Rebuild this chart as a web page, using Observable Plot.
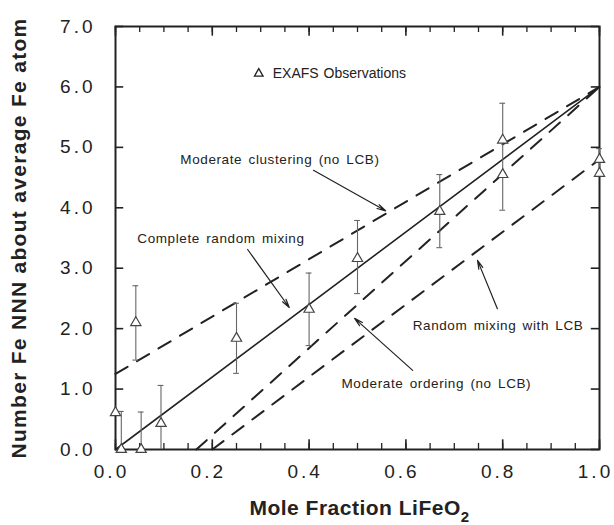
<!DOCTYPE html>
<html>
<head>
<meta charset="utf-8">
<script src="https://cdn.jsdelivr.net/npm/d3@7"></script>
<script src="https://cdn.jsdelivr.net/npm/@observablehq/plot@0.6"></script>
<style>
  html, body { margin: 0; padding: 0; background: #fff; }
</style>
</head>
<body>
<div id="chart"></div>
<script>
// ---- tick labels ----
const xTicks = [0.0, 0.2, 0.4, 0.6, 0.8, 1.0];
const yTicks = [0, 1, 2, 3, 4, 5, 6, 7];
const xMinor = d3.range(0, 1.0001, 0.05);

// ---- EXAFS observations (triangles with error bars) ----
const obsX  = [0.0,  0.012, 0.042, 0.053, 0.094, 0.25, 0.40, 0.50, 0.67, 0.80, 0.80, 1.0,  1.0];
const obsY  = [0.61, 0.0,   2.10,  0.0,   0.43,  1.84, 2.32, 3.16, 3.94, 5.12, 4.55, 4.80, 4.57];
const errLo = [null, 0.0,   1.48,  0.0,   0.0,   1.26, 1.72, 2.58, 3.34, 3.96, null, null, 4.57];
const errHi = [null, 0.63,  2.71,  0.62,  1.06,  2.42, 2.92, 3.79, 4.55, 5.73, null, null, 4.98];

// ---- model lines ----
const randomX  = [0, 1],     randomY  = [0, 6];      // Complete random mixing
const clusterX = [0, 1],     clusterY = [1.25, 6];   // Moderate clustering (no LCB)
const orderX   = [0.167, 1], orderY   = [0, 6];      // Moderate ordering (no LCB)
const lcbX     = [0.2, 1],   lcbY     = [0, 4.8];    // Random mixing with LCB

// ---- annotations ----
const annoText = ["Moderate clustering (no LCB)", "Complete random mixing", "Random mixing with LCB", "Moderate ordering (no LCB)"];
const annoX = [0.134, 0.045, 0.614, 0.467];
const annoY = [4.80, 3.49, 2.05, 1.09];
const arrX1 = [0.409, 0.273, 0.789, 0.614];
const arrY1 = [4.62, 3.31, 2.33, 1.31];
const arrX2 = [0.558, 0.359, 0.748, 0.494];
const arrY2 = [3.95, 2.35, 3.13, 2.17];
const legendText = ["EXAFS Observations"];
const legendX = [0.296], legendY = [6.22];

const yLabel = "Number Fe NNN about average Fe atom";
const xLabel = "Mole Fraction LiFeO";
const xLabelSub = "2";

const ink = "#222";
const idx = obsX.map((_, i) => i);
const errIdx = idx.filter(i => errLo[i] !== null);
const lineData = (xs, ys) => xs.map((x, i) => ({x, y: ys[i]}));

const chart = Plot.plot({
  width: 614,
  height: 525,
  marginLeft: 115,
  marginRight: 15,
  marginTop: 26,
  marginBottom: 76,
  x: {domain: [0, 1], axis: null},
  y: {domain: [0, 7], axis: null},
  style: {fontFamily: "'Liberation Sans', Arial, Helvetica, sans-serif", background: "#fff", color: ink},
  marks: [
    // frame
    Plot.frame({stroke: ink, strokeWidth: 2}),
    // inward ticks: bottom & top
    Plot.ruleX(xMinor, {y1: 0, y2: 0.1, stroke: ink, strokeWidth: 1.3}),
    Plot.ruleX(xTicks, {y1: 0, y2: 0.16, stroke: ink, strokeWidth: 1.6}),
    Plot.ruleX(xMinor, {y1: 7, y2: 6.9, stroke: ink, strokeWidth: 1.3}),
    Plot.ruleX(xTicks, {y1: 7, y2: 6.84, stroke: ink, strokeWidth: 1.6}),
    // inward ticks: left & right
    Plot.ruleY(yTicks, {x1: 0, x2: 0.017, stroke: ink, strokeWidth: 1.6}),
    Plot.ruleY(yTicks, {x1: 1, x2: 0.983, stroke: ink, strokeWidth: 1.6}),
    // tick labels
    Plot.text(yTicks, {x: 0, y: d => d, text: d => d.toFixed(1), textAnchor: "end", dx: -20, fontSize: 19, fill: ink}),
    Plot.text(xTicks, {x: d => d, y: 0, text: d => d.toFixed(1), textAnchor: "middle", dx: -4, dy: 22, fontSize: 19, fill: ink}),
    // axis titles
    Plot.text([yLabel], {frameAnchor: "left", textAnchor: "middle", lineAnchor: "middle", dx: -96, rotate: -90, text: d => d, fontSize: 21, fontWeight: "bold", fill: ink}),
    Plot.text([xLabel], {frameAnchor: "bottom", textAnchor: "middle", lineAnchor: "middle", dx: 2, dy: 59, text: d => d, fontSize: 21, fontWeight: "bold", fill: ink}),
    // model lines
    Plot.line(lineData(randomX, randomY), {x: "x", y: "y", stroke: ink, strokeWidth: 1.6}),
    Plot.line(lineData(clusterX, clusterY), {x: "x", y: "y", stroke: ink, strokeWidth: 2, strokeDasharray: "14,11"}),
    Plot.line(lineData(orderX, orderY), {x: "x", y: "y", stroke: ink, strokeWidth: 2, strokeDasharray: "14,11"}),
    Plot.line(lineData(lcbX, lcbY), {x: "x", y: "y", stroke: ink, strokeWidth: 2, strokeDasharray: "14,11"}),
    // error bars
    Plot.ruleX(errIdx, {x: i => obsX[i], y1: i => errLo[i], y2: i => errHi[i], stroke: "#666", strokeWidth: 1.1}),
    Plot.ruleY(errIdx, {y: i => errHi[i], x1: i => obsX[i] - 0.006, x2: i => obsX[i] + 0.006, stroke: "#666", strokeWidth: 1.1}),
    Plot.ruleY(errIdx.filter(i => errLo[i] > 0), {y: i => errLo[i], x1: i => obsX[i] - 0.006, x2: i => obsX[i] + 0.006, stroke: "#666", strokeWidth: 1.1}),
    // observations
    Plot.dot(idx, {x: i => obsX[i], y: i => obsY[i], symbol: "triangle", r: 3.8, stroke: "#444", fill: "white", strokeWidth: 1.2}),
    // legend
    Plot.dot([0], {x: () => legendX[0], y: () => legendY[0], symbol: "triangle", r: 3.2, stroke: ink, fill: "none", strokeWidth: 1.3}),
    Plot.text(legendText, {x: () => legendX[0], y: () => legendY[0], dx: 14, text: d => d, textAnchor: "start", fontSize: 14, fill: ink}),
    // annotations
    Plot.text(annoText, {x: (d, i) => annoX[i], y: (d, i) => annoY[i], text: d => d, textAnchor: "start", fontSize: 13.5, fill: ink}),
    Plot.arrow(annoText, {x1: (d, i) => arrX1[i], y1: (d, i) => arrY1[i], x2: (d, i) => arrX2[i], y2: (d, i) => arrY2[i], stroke: ink, strokeWidth: 1.2, headLength: 11, headAngle: 28})
  ]
});

document.getElementById("chart").appendChild(chart);

// text styling (letter spacing) and subscript for LiFeO2
d3.select(chart).selectAll("text").each(function () {
  const s = this.textContent;
  const t = d3.select(this);
  if (/^\d\.\d$/.test(s)) t.style("letter-spacing", "3px");
  else if (s === yLabel) t.style("letter-spacing", "1.3px");
  else if (s === xLabel) {
    t.style("letter-spacing", "0.5px");
    t.append("tspan").attr("dy", "0.45em").attr("font-size", 15).text(xLabelSub);
  }
  else if (annoText.includes(s)) t.style("letter-spacing", "0.6px").style("word-spacing", "2px");
  else if (legendText.includes(s)) t.style("word-spacing", "1px");
});
</script>
</body>
</html>
